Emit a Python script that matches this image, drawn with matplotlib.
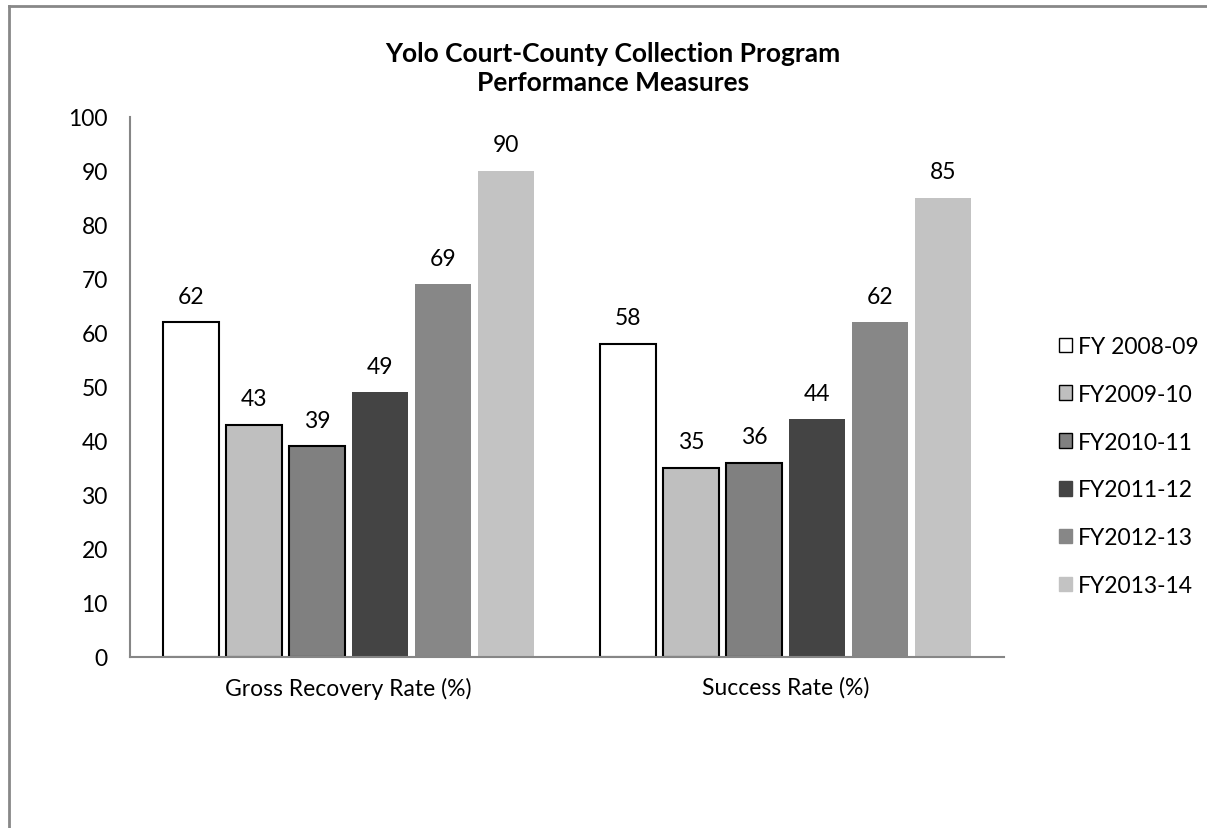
import matplotlib.pyplot as plt
from matplotlib.lines import Line2D
from matplotlib.patches import Patch
import numpy as np

plt.rcParams['font.family'] = ['Lato', 'DejaVu Sans']

categories = ['Gross Recovery Rate (%)', 'Success Rate (%)']
series = ['FY 2008-09', 'FY2009-10', 'FY2010-11', 'FY2011-12', 'FY2012-13', 'FY2013-14']
values = [
    [62, 58],
    [43, 35],
    [39, 36],
    [49, 44],
    [69, 62],
    [90, 85],
]
colors = ['#ffffff', '#bfbfbf', '#808080', '#444444', '#878787', '#c3c3c3']
edges = ['black', 'black', 'black', 'none', 'none', 'none']

fig = plt.figure(figsize=(12.07, 8.29), dpi=100)
ax = fig.add_axes([0.1077, 0.2063, 0.7241, 0.6514])

x = np.arange(len(categories))
step = 0.1442
width = 0.128
handles = []
for i, (name, vals) in enumerate(zip(series, values)):
    pos = x + (i - 2.5) * step
    ax.bar(pos, vals, width, color=colors[i], edgecolor=edges[i],
           linewidth=1.5 if edges[i] != 'none' else 0, zorder=2)
    for p, v in zip(pos, vals):
        ax.text(p, v + 2.9, str(v), ha='center', va='bottom', fontsize=16.5, color='black')
    handles.append(Patch(facecolor=colors[i], edgecolor='black' if edges[i] != 'none' else colors[i],
                         linewidth=1.0, label=name))

ax.set_xlim(-0.5, 1.5)
ax.set_ylim(0, 100)
ax.set_yticks(range(0, 101, 10))
ax.set_xticks(x)
ax.set_xticklabels(categories)
ax.tick_params(axis='both', length=0, labelsize=16.5, colors='black')
ax.tick_params(axis='y', pad=16)
ax.tick_params(axis='x', pad=14)
for s in ['top', 'right']:
    ax.spines[s].set_visible(False)
for s in ['left', 'bottom']:
    ax.spines[s].set_color('#868686')
    ax.spines[s].set_linewidth(1.5)

fig.text(0.508, 0.949, 'Yolo Court-County Collection Program\nPerformance Measures',
         ha='center', va='top', fontsize=19, fontweight='bold', linespacing=1.22)

ax.legend(handles=handles, loc='center left', bbox_to_anchor=(0.877, 0.4367),
          bbox_transform=fig.transFigure, frameon=False, fontsize=16.5,
          handlelength=0.6, handleheight=0.6, handletextpad=0.25, labelspacing=1.17,
          borderpad=0, borderaxespad=0)

# outer frame (left and top edges only visible)
fig.add_artist(Line2D([0.0075, 0.0075], [0.0, 0.9915], transform=fig.transFigure, color='#888888', lw=2))
fig.add_artist(Line2D([0.0075, 1.0], [0.9915, 0.9915], transform=fig.transFigure, color='#888888', lw=2))

fig.savefig('out.png', dpi=100)
